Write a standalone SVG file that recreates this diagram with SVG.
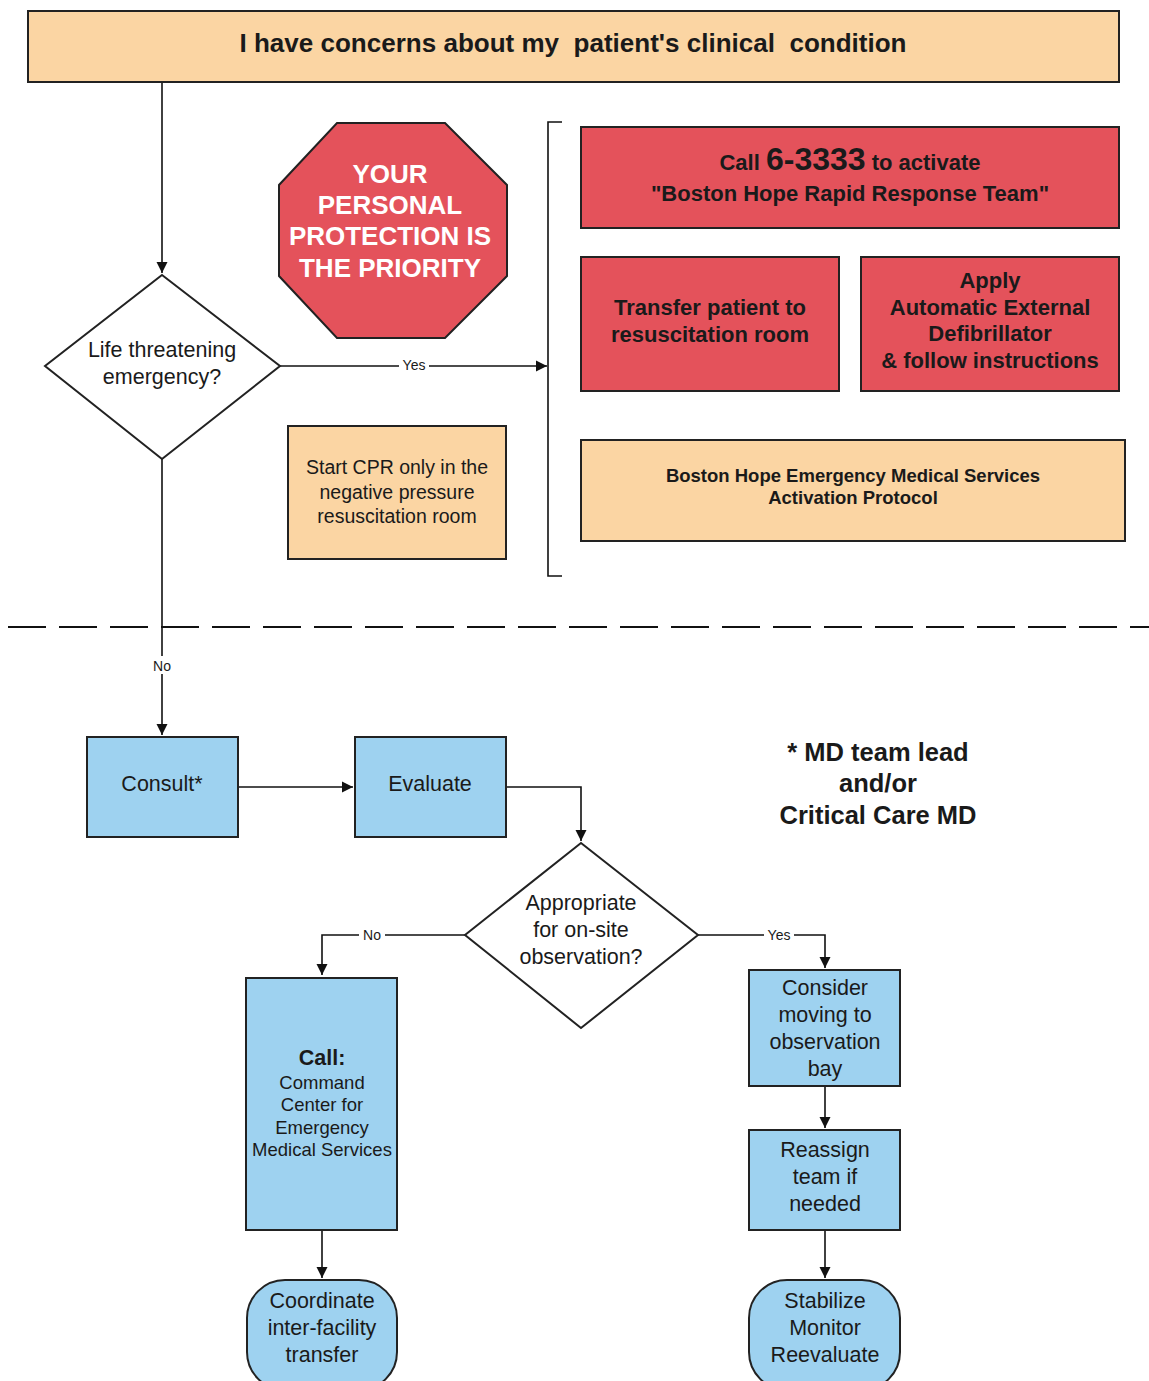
<svg xmlns="http://www.w3.org/2000/svg" width="1149" height="1381" viewBox="0 0 1149 1381">
<defs>
<marker id="arr" viewBox="0 0 10 10" refX="10" refY="5" markerWidth="11" markerHeight="12" markerUnits="userSpaceOnUse" orient="auto">
<path d="M0,0 L10,5 L0,10 z" fill="#111"/>
</marker>
<style>
text{font-family:"Liberation Sans",Arial,sans-serif;fill:#1a1a1a;text-anchor:middle}
.peach{fill:#fbd5a3;stroke:#222;stroke-width:2}
.red{fill:#e4525b;stroke:#222;stroke-width:2}
.blue{fill:#9ed2f0;stroke:#222;stroke-width:2}
.dia{fill:#fff;stroke:#222;stroke-width:2}
.b{font-weight:bold}
.t20{font-size:21.5px}
.t17{font-size:18.5px}
.r{font-size:22px;font-weight:bold}
.lab{font-size:14px}
.conn{fill:none;stroke:#111;stroke-width:1.6}
</style>
</defs>
<rect width="1149" height="1381" fill="#fff"/>

<g id="connectors">
<path class="conn" d="M162,82 V273" marker-end="url(#arr)"/>
<path class="conn" d="M280,366 H547" marker-end="url(#arr)"/>
<rect x="399" y="358" width="30" height="14" fill="#fff"/>
<text x="414" y="370" class="lab">Yes</text>
<path class="conn" d="M562,122 H548 V576 H562"/>
<path class="conn" d="M162,459 V735" marker-end="url(#arr)"/>
<rect x="149" y="656" width="26" height="18" fill="#fff"/>
<text x="162" y="671" class="lab">No</text>
<path class="conn" d="M238,787 H353" marker-end="url(#arr)"/>
<path class="conn" d="M506,787 H581 V841" marker-end="url(#arr)"/>
<path class="conn" d="M465,935 H322 V975" marker-end="url(#arr)"/>
<rect x="359" y="928" width="26" height="14" fill="#fff"/>
<text x="372" y="940" class="lab">No</text>
<path class="conn" d="M698,935 H825 V968" marker-end="url(#arr)"/>
<rect x="764" y="928" width="30" height="14" fill="#fff"/>
<text x="779" y="940" class="lab">Yes</text>
<path class="conn" d="M322,1230 V1278" marker-end="url(#arr)"/>
<path class="conn" d="M825,1086 V1128" marker-end="url(#arr)"/>
<path class="conn" d="M825,1230 V1278" marker-end="url(#arr)"/>
</g>

<line x1="8" y1="627" x2="1149" y2="627" stroke="#111" stroke-width="2" stroke-dasharray="38,13"/>

<g id="top">
<rect class="peach" x="28" y="11" width="1091" height="71"/>
<text x="573" y="52" class="b" font-size="25" style="white-space:pre" textLength="667" lengthAdjust="spacingAndGlyphs">I have concerns about my  patient's clinical  condition</text>
</g>

<g id="stop">
<polygon class="red" points="337,123 445,123 507,185 507,276 445,338 337,338 279,276 279,185"/>
<text x="390" y="183" class="b" font-size="26" style="fill:#fff">YOUR</text>
<text x="390" y="214" class="b" font-size="26" style="fill:#fff">PERSONAL</text>
<text x="390" y="245" class="b" font-size="26" style="fill:#fff">PROTECTION IS</text>
<text x="390" y="277" class="b" font-size="26" style="fill:#fff">THE PRIORITY</text>
</g>

<g id="life">
<polygon class="dia" points="162,275 280,366 162,459 45,366"/>
<text x="162" y="357" class="t20">Life threatening</text>
<text x="162" y="384" class="t20">emergency?</text>
</g>

<g id="cpr">
<rect class="peach" x="288" y="426" width="218" height="133"/>
<text x="397" y="474" font-size="19.5">Start CPR only in the</text>
<text x="397" y="499" font-size="19.5">negative pressure</text>
<text x="397" y="523" font-size="19.5">resuscitation room</text>
</g>

<g id="call3333">
<rect class="red" x="581" y="127" width="538" height="101"/>
<text x="850" y="170" class="r">Call <tspan font-size="32">6-3333</tspan> to activate</text>
<text x="850" y="201" class="r">"Boston Hope Rapid Response Team"</text>
</g>

<g id="transfer">
<rect class="red" x="581" y="257" width="258" height="134"/>
<text x="710" y="315" class="r">Transfer patient to</text>
<text x="710" y="342" class="r">resuscitation room</text>
</g>

<g id="aed">
<rect class="red" x="861" y="257" width="258" height="134"/>
<text x="990" y="288" class="r">Apply</text>
<text x="990" y="315" class="r">Automatic External</text>
<text x="990" y="341" class="r">Defibrillator</text>
<text x="990" y="368" class="r">&amp; follow instructions</text>
</g>

<g id="protocol">
<rect class="peach" x="581" y="440" width="544" height="101"/>
<text x="853" y="482" class="b" font-size="18.5">Boston Hope Emergency Medical Services</text>
<text x="853" y="504" class="b" font-size="18.5">Activation Protocol</text>
</g>

<g id="consult">
<rect class="blue" x="87" y="737" width="151" height="100"/>
<text x="162" y="791" class="t20">Consult*</text>
</g>

<g id="evaluate">
<rect class="blue" x="355" y="737" width="151" height="100"/>
<text x="430" y="791" class="t20">Evaluate</text>
</g>

<g id="note">
<text x="878" y="761" class="b" font-size="25.5">* MD team lead</text>
<text x="878" y="792" class="b" font-size="25.5">and/or</text>
<text x="878" y="824" class="b" font-size="25.5">Critical Care MD</text>
</g>

<g id="appropriate">
<polygon class="dia" points="581,843 698,935 581,1028 465,935"/>
<text x="581" y="910" class="t20">Appropriate</text>
<text x="581" y="937" class="t20">for on-site</text>
<text x="581" y="964" class="t20">observation?</text>
</g>

<g id="callcenter">
<rect class="blue" x="246" y="978" width="151" height="252"/>
<text x="322" y="1065" class="b t20">Call:</text>
<text x="322" y="1089" class="t17">Command</text>
<text x="322" y="1111" class="t17">Center for</text>
<text x="322" y="1134" class="t17">Emergency</text>
<text x="322" y="1156" class="t17">Medical Services</text>
</g>

<g id="coordinate">
<rect class="blue" x="247" y="1280" width="150" height="110" rx="38" ry="38"/>
<text x="322" y="1308" class="t20">Coordinate</text>
<text x="322" y="1335" class="t20">inter-facility</text>
<text x="322" y="1362" class="t20">transfer</text>
</g>

<g id="consider">
<rect class="blue" x="749" y="970" width="151" height="116"/>
<text x="825" y="995" class="t20">Consider</text>
<text x="825" y="1022" class="t20">moving to</text>
<text x="825" y="1049" class="t20">observation</text>
<text x="825" y="1076" class="t20">bay</text>
</g>

<g id="reassign">
<rect class="blue" x="749" y="1130" width="151" height="100"/>
<text x="825" y="1157" class="t20">Reassign</text>
<text x="825" y="1184" class="t20">team if</text>
<text x="825" y="1211" class="t20">needed</text>
</g>

<g id="stabilize">
<rect class="blue" x="749" y="1280" width="151" height="110" rx="38" ry="38"/>
<text x="825" y="1308" class="t20">Stabilize</text>
<text x="825" y="1335" class="t20">Monitor</text>
<text x="825" y="1362" class="t20">Reevaluate</text>
</g>
</svg>
